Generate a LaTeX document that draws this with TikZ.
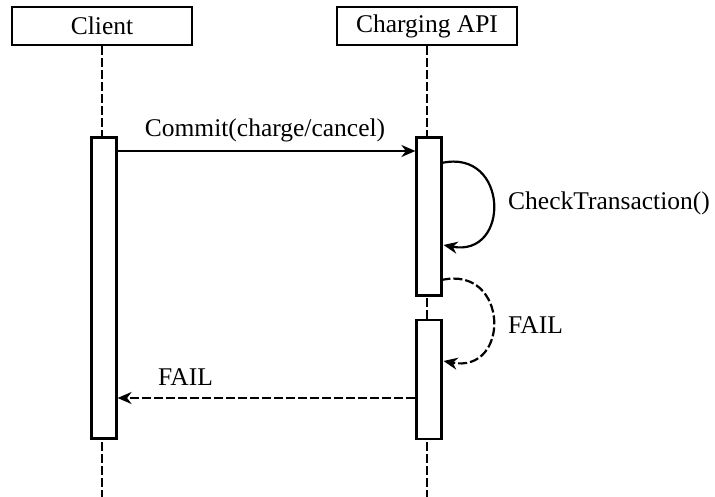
\documentclass[tikz,border=0pt]{standalone}
\usepackage{fontspec}
\setmainfont{Liberation Serif}
\usetikzlibrary{arrows.meta}
\begin{document}
\begin{tikzpicture}[x=1pt,y=-1pt,
  lbl/.style={font=\fontsize{25.5}{28}\selectfont, inner sep=0pt, anchor=base west},
  actor/.style={draw, line width=2.4pt, minimum width=180pt, minimum height=38pt, inner sep=0pt, font=\fontsize{25.5}{28}\selectfont},
  act/.style={draw, line width=2.2pt, fill=white, minimum width=25pt, inner sep=0pt},
  life/.style={line width=2.2pt, dash pattern=on 9pt off 3pt},
  msg/.style={line width=2.2pt, -{Stealth[length=14pt,width=12pt]}},
  dmsg/.style={msg, dash pattern=on 9pt off 3pt}
]
\useasboundingbox (0,0) rectangle (715,497);
% actors
\node[actor] (client) at (102,26) {Client};
\node[actor] (api) at (427,26) {Charging API};
% lifelines
\coordinate (cbot) at (102,497);
\coordinate (abot) at (427,497);
\draw[life] (client.south) -- (cbot);
\draw[life] (api.south) -- (abot);
% activations
\node[act, minimum height=301pt] (cact) at (104,288) {};
\node[act, minimum height=158pt] (aact1) at (429,216.5) {};
\node[act, minimum height=119pt] (aact2) at (429,379.5) {};
% commit
\draw[msg] (cact.north east |- 0,151) coordinate (c1) -- (aact1.north west |- 0,151) coordinate (c2);
\node[lbl, anchor=base] (commitlbl) at (265,137) {Commit(charge/cancel)};
% self call check
\coordinate (s1) at (441.5,163);
\coordinate (s2) at (443.5,245);
\draw[msg] (s1) .. controls (509,148) and (511,258) .. (s2);
\node[lbl] (checklbl) at (508,210) {CheckTransaction()};
% self call fail
\coordinate (f1) at (441.5,280);
\coordinate (f2) at (443.5,361);
\draw[dmsg] (f1) .. controls (509,265) and (511,374) .. (f2);
\node[lbl] (fail1) at (508,333) {FAIL};
% fail return
\draw[dmsg] (aact2.west |- 0,398) coordinate (r1) -- (cact.east |- 0,398) coordinate (r2);
\node[lbl] (fail2) at (158,385) {FAIL};
\end{tikzpicture}
\end{document}
